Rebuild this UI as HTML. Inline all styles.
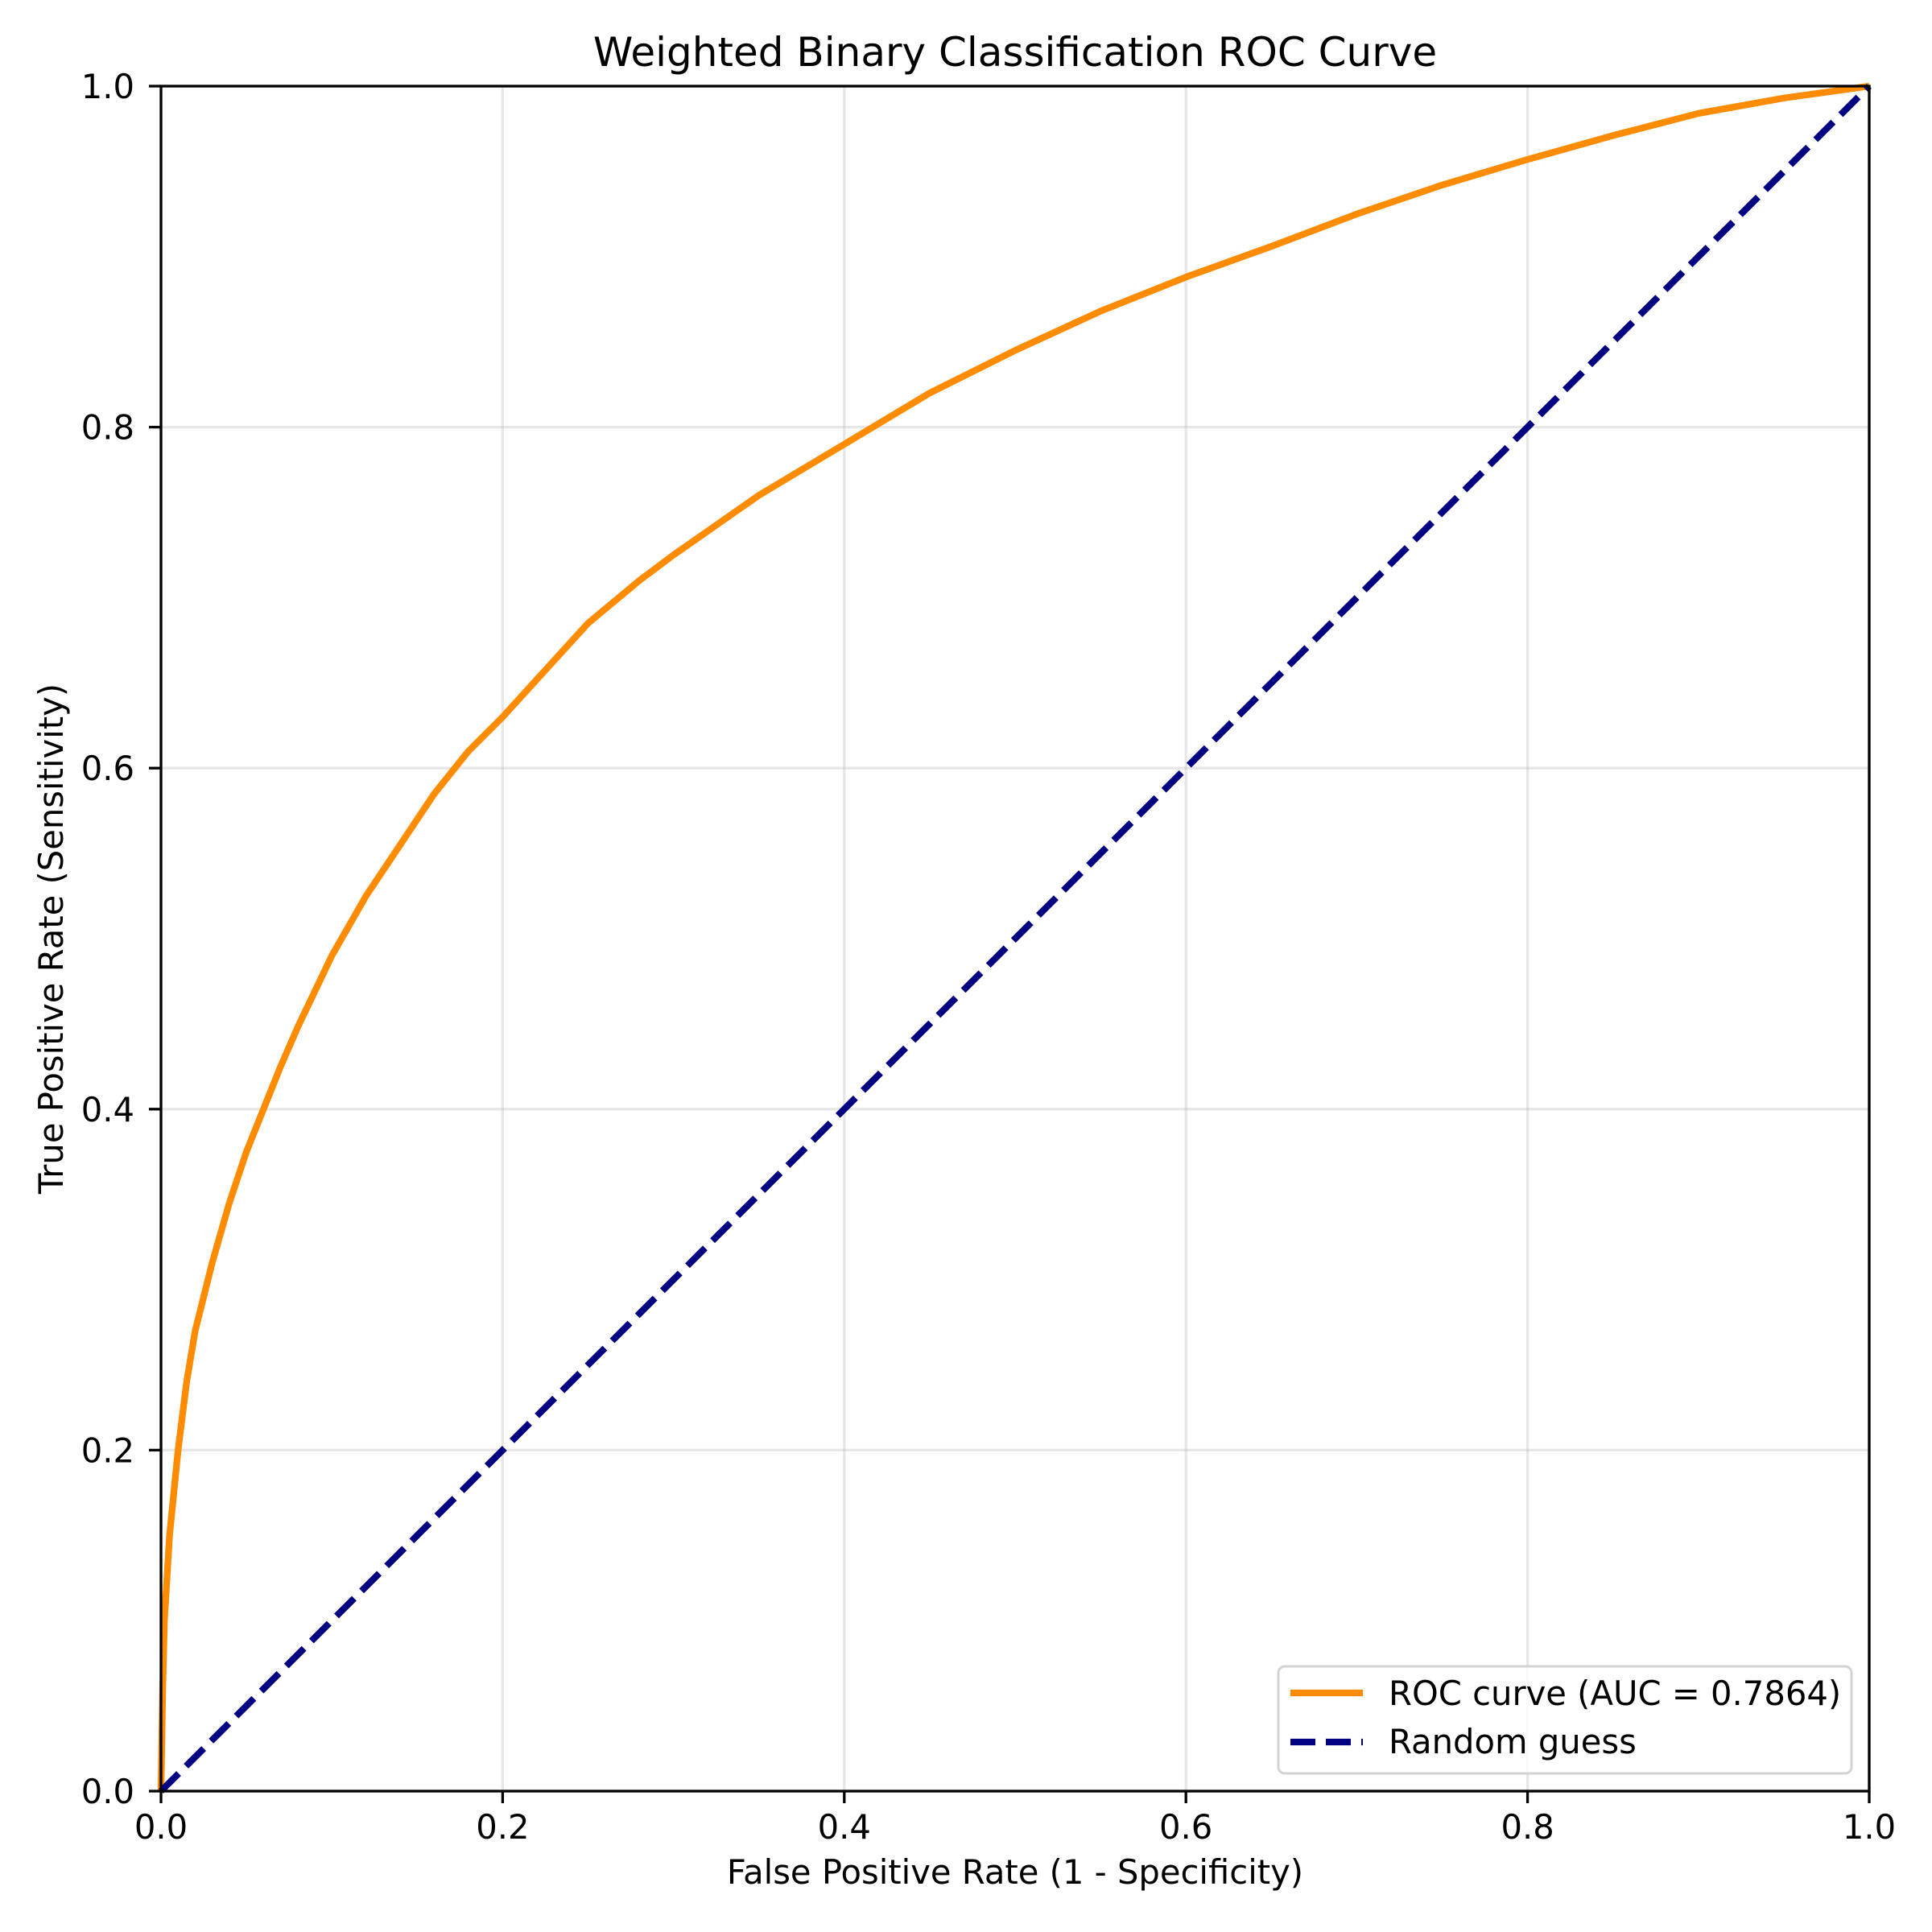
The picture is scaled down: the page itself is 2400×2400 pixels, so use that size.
<!DOCTYPE html>
<html><head><meta charset="utf-8"><style>
html,body{margin:0;padding:0;background:#fff}
svg{display:block}
text{font-family:"DejaVu Sans","Liberation Sans",sans-serif;fill:#000}
</style></head><body>
<svg id="chart" width="2400" height="2400" viewBox="0 0 2400 2400" xmlns="http://www.w3.org/2000/svg">
<rect width="2400" height="2400" fill="#fff"/>
<g id="grid"></g>
<g id="series"></g>
<g id="axes"></g>
<text x="1261" y="82" font-size="50" text-anchor="middle">Weighted Binary Classification ROC Curve</text>
<text x="1261" y="2340" font-size="41.7" text-anchor="middle">False Positive Rate (1 - Specificity)</text>
<text x="0" y="0" font-size="41.7" text-anchor="middle" transform="translate(78,1166) rotate(-90)">True Positive Rate (Sensitivity)</text>
<g>
<rect x="1588" y="2070" width="712" height="133" rx="8" fill="#fff" fill-opacity="0.8" stroke="#d3d3d3" stroke-width="3"/>
<line x1="1603" y1="2103" x2="1693" y2="2103" stroke="#ff8c00" stroke-width="8.3"/>
<text x="1725" y="2118" font-size="41.7">ROC curve (AUC = 0.7864)</text>
<line x1="1603" y1="2164" x2="1693" y2="2164" stroke="#000080" stroke-width="8.3" stroke-dasharray="31 13"/>
<text x="1725" y="2178" font-size="41.7">Random guess</text>
</g>
</svg>
<script>
const fprValues = [0,0.001,0.002,0.005,0.01,0.015,0.02,0.03,0.04,0.05,0.06,0.07,0.08,0.1,0.12,0.14,0.16,0.18,0.2,0.22,0.25,0.28,0.3,0.35,0.4,0.45,0.5,0.55,0.6,0.65,0.7,0.75,0.8,0.85,0.9,0.95,1];
const tprValues = [0,0.06,0.1,0.15,0.2,0.24,0.27,0.31,0.345,0.375,0.40,0.425,0.448,0.49,0.525,0.555,0.585,0.61,0.63,0.652,0.685,0.71,0.725,0.76,0.79,0.82,0.845,0.868,0.888,0.906,0.925,0.942,0.957,0.971,0.984,0.993,1];
const randomX = [0,1];
const randomY = [0,1];
const xTicks = [0,0.2,0.4,0.6,0.8,1.0];
const yTicks = [0,0.2,0.4,0.6,0.8,1.0];
const xTickLabels = ["0.0","0.2","0.4","0.6","0.8","1.0"];
const yTickLabels = ["0.0","0.2","0.4","0.6","0.8","1.0"];

const L=200,R=2322,T=107,B=2225;
const NS="http://www.w3.org/2000/svg";
function xs(v){return L+(R-L)*v;}
function ys(v){return B-(B-T)*v;}
function mk(tag,attrs,parent){const e=document.createElementNS(NS,tag);for(const k in attrs)e.setAttribute(k,attrs[k]);parent.appendChild(e);return e;}
const grid=document.getElementById('grid'),series=document.getElementById('series'),axes=document.getElementById('axes');
xTicks.forEach((v,i)=>{
  const g=mk('line',{x1:xs(v),x2:xs(v),y1:T,y2:B,stroke:'#b0b0b0','stroke-opacity':0.3,'stroke-width':3.3},grid);
  
  
  const t=mk('line',{x1:xs(v),x2:xs(v),y1:B,y2:B+15,stroke:'#000','stroke-width':3.3},axes);
  
  
  const l=mk('text',{x:xs(v),y:2284,'font-size':41.7,'text-anchor':'middle'},axes);
  l.textContent=xTickLabels[i];
  
  
});
yTicks.forEach((v,i)=>{
  const g=mk('line',{x1:L,x2:R,y1:ys(v),y2:ys(v),stroke:'#b0b0b0','stroke-opacity':0.3,'stroke-width':3.3},grid);
  
  
  const t=mk('line',{x1:L-15,x2:L,y1:ys(v),y2:ys(v),stroke:'#000','stroke-width':3.3},axes);
  
  
  const l=mk('text',{x:167,y:ys(v)+15,'font-size':41.7,'text-anchor':'end'},axes);
  l.textContent=yTickLabels[i];
  
  
});
const roc=mk('polyline',{points:fprValues.map((v,i)=>xs(v)+','+ys(tprValues[i])).join(' '),fill:'none',stroke:'#ff8c00','stroke-width':8.3,'stroke-linejoin':'round'},series);


const rnd=mk('polyline',{points:randomX.map((v,i)=>xs(v)+','+ys(randomY[i])).join(' '),fill:'none',stroke:'#000080','stroke-width':8.3,'stroke-dasharray':'31 13'},series);


const frame=mk('rect',{x:L,y:T,width:R-L,height:B-T,fill:'none',stroke:'#000','stroke-width':3.3},axes);


</script>
</body></html>
